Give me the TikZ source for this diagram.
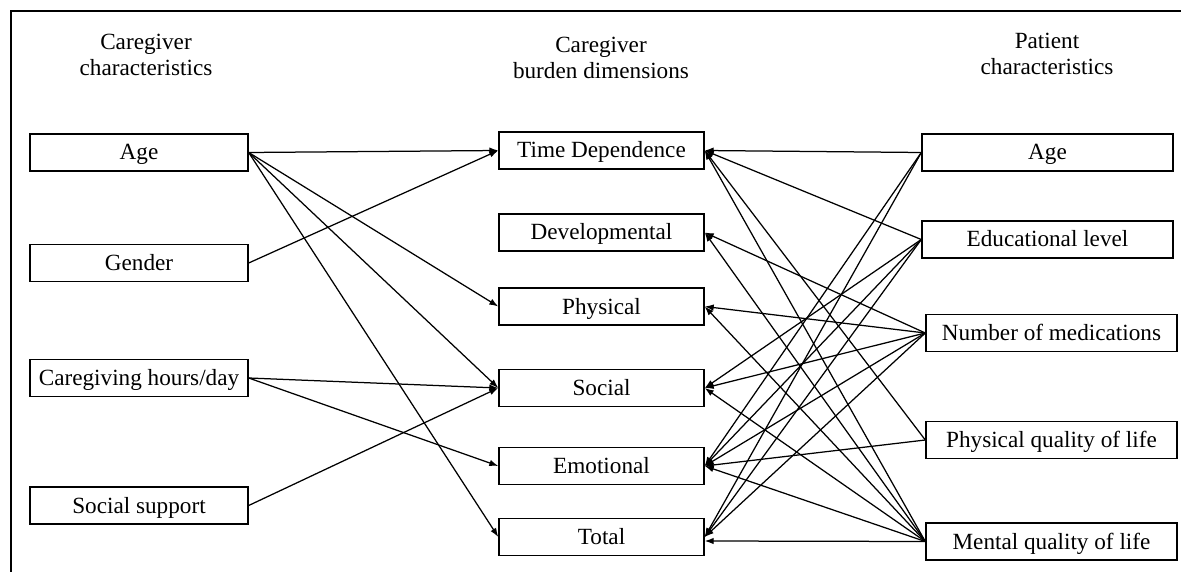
\documentclass[tikz,border=0pt]{standalone}
\usepackage{fontspec}
\setmainfont{Liberation Serif}
\usetikzlibrary{arrows.meta}
\begin{document}
\begin{tikzpicture}[x=1pt,y=-1pt,
  box/.style={draw=black,line width=1.4pt,inner sep=0pt,minimum height=37pt,
    text height=20pt,text depth=5pt,
    font=\fontsize{23.2}{26}\selectfont},
  lbox/.style={box,minimum width=218pt},
  mbox/.style={box,minimum width=205pt},
  rbox/.style={box,minimum width=251pt},
  head/.style={align=center,font=\fontsize{23.2}{26.5}\selectfont},
  arr/.style={line width=1.25pt,-{Latex[length=9pt,width=6.5pt]}}]
\useasboundingbox (0,0) rectangle (1181,572);
\draw[line width=1.5pt] (11,572) -- (11,11) -- (1181,11);
% headers
\node[head] (h1) at (146,55) {Caregiver\\characteristics};
\node[head] (h2) at (601,58) {Caregiver\\burden dimensions};
\node[head] (h3) at (1047,54) {Patient\\characteristics};
% left column
\node[lbox] (lage) at (139,152.5) {Age};
\node[lbox] (lgen) at (139,263) {Gender};
\node[lbox] (lhrs) at (139,378) {Caregiving hours/day};
\node[lbox] (lsup) at (139,505.5) {Social support};
% middle column
\node[mbox] (td) at (601.5,150.5) {Time Dependence};
\node[mbox] (dev) at (601.5,232.5) {Developmental};
\node[mbox] (phy) at (601.5,306.5) {Physical};
\node[mbox] (soc) at (601.5,388) {Social};
\node[mbox] (emo) at (601.5,466) {Emotional};
\node[mbox] (tot) at (601.5,537) {Total};
% right column
\node[rbox] (rage) at (1047.5,152.5) {Age};
\node[rbox] (redu) at (1047.5,239.5) {Educational level};
\node[rbox] (rmed) at (1051.5,333) {Number of medications};
\node[rbox] (rpql) at (1051.5,440) {Physical quality of life};
\node[rbox] (rmql) at (1051.5,541.5) {Mental quality of life};
% left connectors
\draw[arr] (lage.east) -- (td.west);
\draw[arr] (lage.east) -- (phy.west);
\draw[arr] (lage.east) -- (soc.west);
\draw[arr] (lage.east) -- (tot.west);
\draw[arr] (lgen.east) -- (td.west);
\draw[arr] (lhrs.east) -- (soc.west);
\draw[arr] (lhrs.east) -- (emo.west);
\draw[arr] (lsup.east) -- (soc.west);
% right connectors
\draw[arr] (rage.west) -- (td.east);
\draw[arr] (rage.west) -- (emo.east);
\draw[arr] (rage.west) -- (tot.east);
\draw[arr] (redu.west) -- (td.east);
\draw[arr] (redu.west) -- (soc.east);
\draw[arr] (redu.west) -- (emo.east);
\draw[arr] (redu.west) -- (tot.east);
\draw[arr] (rmed.west) -- (dev.east);
\draw[arr] (rmed.west) -- (phy.east);
\draw[arr] (rmed.west) -- (soc.east);
\draw[arr] (rmed.west) -- (emo.east);
\draw[arr] (rmed.west) -- (tot.east);
\draw[arr] (rpql.west) -- (td.east);
\draw[arr] (rpql.west) -- (emo.east);
\draw[arr] (rmql.west) -- (td.east);
\draw[arr] (rmql.west) -- (dev.east);
\draw[arr] (rmql.west) -- (phy.east);
\draw[arr] (rmql.west) -- (soc.east);
\draw[arr] (rmql.west) -- (emo.east);
\draw[arr] (rmql.west) -- ([yshift=-4pt]tot.east);
\end{tikzpicture}
\end{document}
